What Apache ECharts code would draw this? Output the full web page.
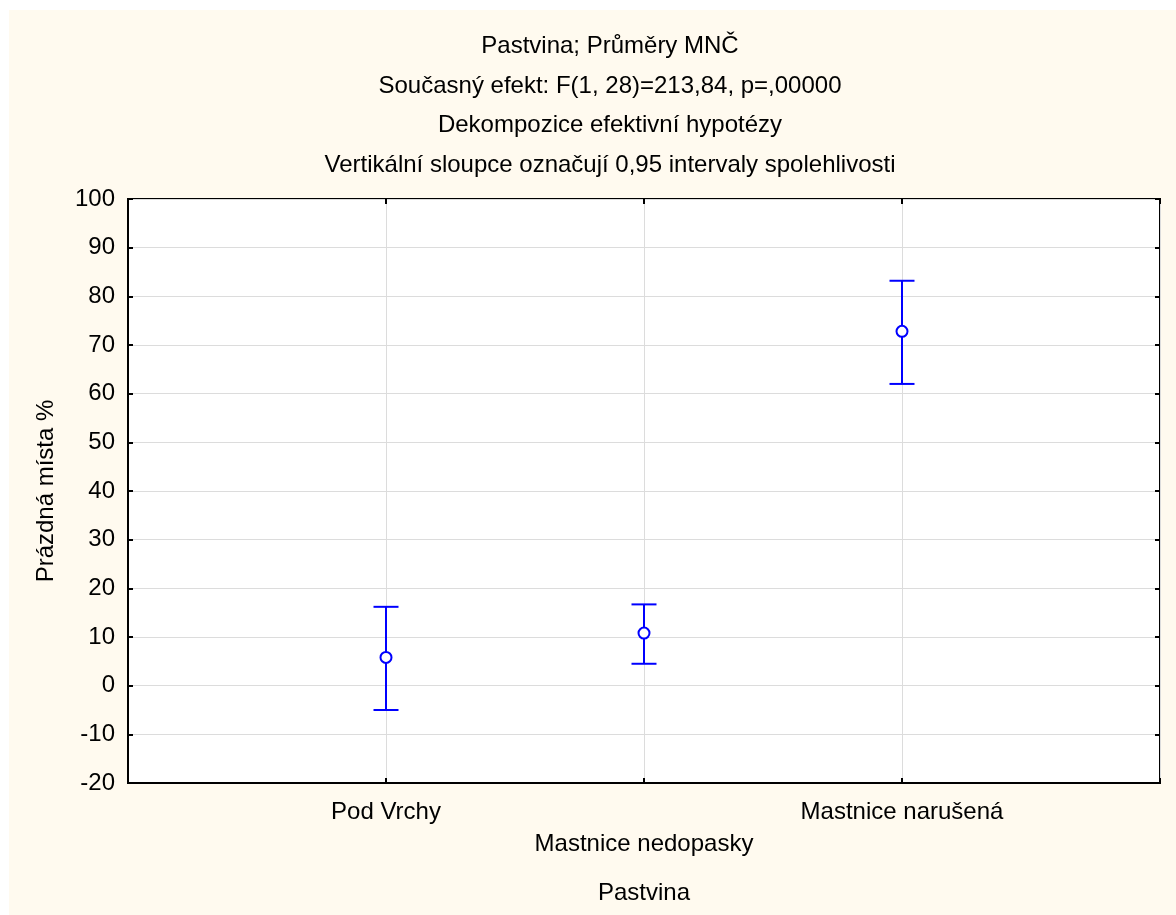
<!DOCTYPE html>
<html>
<head>
<meta charset="utf-8">
<script src="https://cdn.jsdelivr.net/npm/echarts@6/dist/echarts.min.js"></script>
<style>
  html, body { margin: 0; padding: 0; background: #ffffff; }
  #chart { position: absolute; left: 9px; top: 10px; width: 1167px; height: 905px; }
</style>
</head>
<body>
<div id="chart"></div>
<script>
// data
const categories = ["Pod Vrchy", "Mastnice nedopasky", "Mastnice narušená"];
const means = [5.8, 10.8, 72.8];
const lower = [-5.0, 4.5, 62.0];
const upper = [16.2, 16.7, 83.2];

const titleLines = [
  "Pastvina; Průměry MNČ",
  "Současný efekt: F(1, 28)=213,84, p=,00000",
  "Dekompozice efektivní hypotézy",
  "Vertikální sloupce označují 0,95 intervaly spolehlivosti",
];

const font = "'Liberation Sans', Arial, sans-serif";
const fs = 24;

// empty slots at both ends so the groups sit at 1/4, 2/4, 3/4
const xCats = ["", ...categories, ""];
const errData = categories.map((c, i) => [c, means[i], lower[i], upper[i]]);

const chart = echarts.init(document.getElementById("chart"), null, { renderer: "canvas" });

const tick = { inside: true, length: 5, lineStyle: { color: "#000", width: 2 } };

const option = {
  backgroundColor: "#FFFAEF",
  animation: false,
  graphic: [
    {
      type: "text",
      x: 601,
      y: 17,
      style: {
        text: titleLines.join("\n"),
        font: fs + "px " + font,
        lineHeight: 39.5,
        fill: "#000",
        align: "center",
        verticalAlign: "top",
      },
    },
  ],
  grid: {
    left: 119,
    top: 189,
    right: 16,
    bottom: 132,
    show: true,
    backgroundColor: "#ffffff",
    borderColor: "#000000",
    borderWidth: 2,
  },
  xAxis: [
    {
      type: "category",
      data: xCats,
      boundaryGap: false,
      name: "Pastvina",
      nameLocation: "middle",
      nameGap: 98,
      nameTextStyle: { fontFamily: font, fontSize: fs, color: "#000" },
      axisLine: { onZero: false, lineStyle: { color: "#000", width: 2 } },
      axisTick: tick,
      axisLabel: {
        interval: 0,
        margin: 13,
        fontFamily: font,
        fontSize: fs,
        color: "#000",
        lineHeight: 32,
        formatter: (v, i) => (i === 2 ? "\n" + v : v),
      },
      splitLine: { show: true, lineStyle: { color: "#DCDCDC", width: 1 } },
    },
    {
      type: "category",
      data: xCats,
      boundaryGap: false,
      position: "top",
      axisLine: { show: false, onZero: false },
      axisTick: tick,
      axisLabel: { show: false },
    },
  ],
  yAxis: [
    {
      type: "value",
      min: -20,
      max: 100,
      interval: 10,
      name: "Prázdná místa %",
      nameLocation: "middle",
      nameGap: 70,
      nameTextStyle: { fontFamily: font, fontSize: fs, color: "#000" },
      axisLine: { show: true, onZero: false, lineStyle: { color: "#000", width: 2 } },
      axisTick: Object.assign({ show: true }, tick),
      axisLabel: { margin: 13, fontFamily: font, fontSize: fs, color: "#000" },
      splitLine: { show: true, lineStyle: { color: "#DCDCDC", width: 1 } },
    },
    {
      type: "value",
      min: -20,
      max: 100,
      interval: 10,
      position: "right",
      axisLine: { show: false, onZero: false },
      axisTick: Object.assign({ show: true }, tick),
      axisLabel: { show: false },
      splitLine: { show: false },
    },
  ],
  series: [
    {
      type: "custom",
      xAxisIndex: 0,
      yAxisIndex: 0,
      data: errData,
      encode: { x: 0, y: [1, 2, 3] },
      renderItem: (params, api) => {
        const x = api.value(0);
        const m = api.coord([x, api.value(1)]);
        const lo = api.coord([x, api.value(2)]);
        const hi = api.coord([x, api.value(3)]);
        const cap = 12.5;
        const ls = { stroke: "#0000FF", lineWidth: 2 };
        return {
          type: "group",
          children: [
            { type: "line", shape: { x1: lo[0], y1: lo[1], x2: hi[0], y2: hi[1] }, style: ls },
            { type: "line", shape: { x1: lo[0] - cap, y1: lo[1], x2: lo[0] + cap, y2: lo[1] }, style: ls },
            { type: "line", shape: { x1: hi[0] - cap, y1: hi[1], x2: hi[0] + cap, y2: hi[1] }, style: ls },
            { type: "circle", shape: { cx: m[0], cy: m[1], r: 5.5 }, style: { fill: "#ffffff", stroke: "#0000FF", lineWidth: 2 } },
          ],
        };
      },
    },
  ],
};

chart.setOption(option);
</script>
</body>
</html>
